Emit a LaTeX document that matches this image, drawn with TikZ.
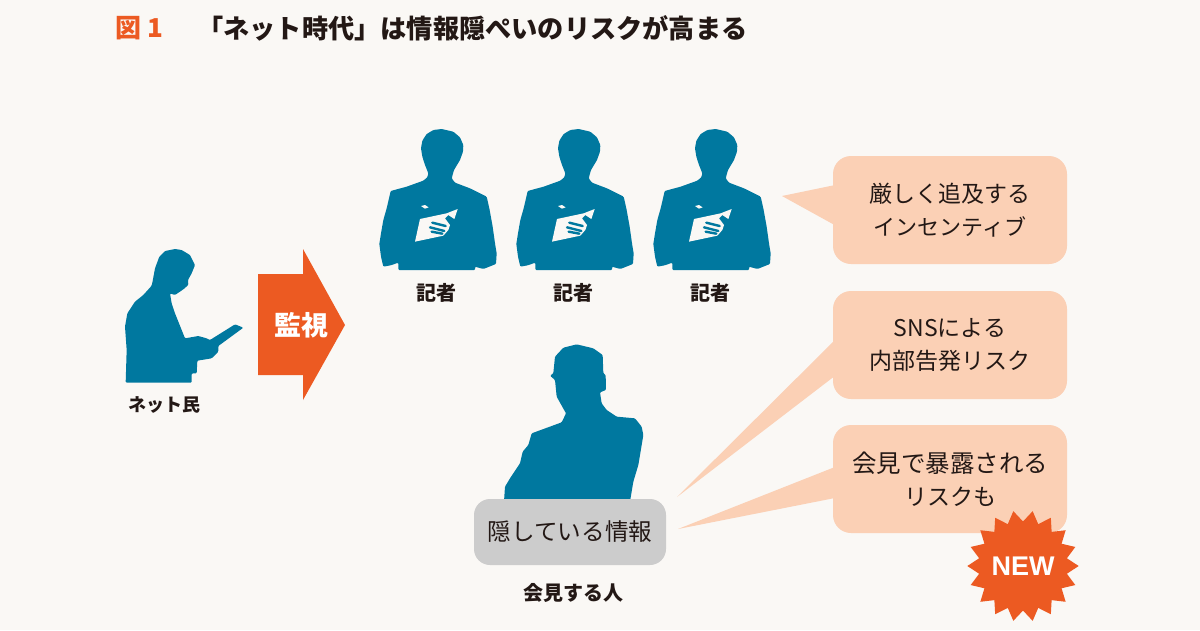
\documentclass[tikz,border=0pt]{standalone}
\usepackage{fontspec}
\setmainfont{Noto Sans CJK JP}
\newfontfamily\latinbold{Liberation Sans}
\usetikzlibrary{shapes.geometric}
\definecolor{bgc}{HTML}{FAF8F5}
\definecolor{teal}{HTML}{00789F}
\definecolor{orng}{HTML}{EC5A22}
\definecolor{peach}{HTML}{FBD0B5}
\definecolor{greyb}{HTML}{CCCCCC}
\definecolor{ink}{HTML}{231815}
\tikzset{
  sil/.style={fill=teal,rounded corners=1pt},
  zoomed/.style={x=0.333333pt,y=-0.333333pt},
  callout/.style={fill=peach,rounded corners=18pt,minimum width=234pt,minimum height=108pt,inner sep=0pt,align=center,text=ink,font=\fontsize{23}{33}\selectfont},
  tailshape/.style={fill=peach},
  caption/.style={text=ink,font=\bfseries\fontsize{20}{24}\selectfont,inner sep=0pt},
}
\newcommand{\reporter}[1]{%
  \begin{scope}[shift={(#1,-120pt)},zoomed]
    \fill[sil] (215,27)--(190,30)--(170,42)--(157,62)--(153,85)--(157,110)--(165,135)--(175,160)--(172,172)--(160,182)--(110,200)--(62,213)--(57,235)--(50,265)--(40,300)--(33,340)--(28,372)--(33,410)--(40,440)--(62,436)--(85,428)--(85,450)--(315,450)--(315,440)--(340,447)--(378,432)--(380,400)--(375,370)--(368,320)--(358,265)--(350,230)--(300,205)--(255,188)--(245,175)--(252,150)--(270,120)--(279,95)--(280,75)--(270,52)--(250,35)--cycle;
    \fill[bgc] (150,297)--(230,280)--(263,267)--(253,297)--(235,285)--(225,295)--(240,315)--(235,330)--(220,347)--(135,365)--cycle;
    \fill[bgc] (153,258)--(165,255)--(176,262)--(165,266)--cycle;
    \draw[teal,line width=2.4pt,line cap=round] (187,308)--(227,318) (180,322)--(223,333) (185,335)--(217,341);
  \end{scope}}
\begin{document}
\begin{tikzpicture}[x=1pt,y=-1pt]
\useasboundingbox (0,0) rectangle (1200,630);
\fill[bgc] (0,0) rectangle (1200,630);

% title
\node[anchor=west,inner sep=0pt,text=orng,font=\bfseries\fontsize{26}{30}\selectfont] (fig) at (115,28) {図 1};
\node[anchor=west,inner sep=0pt,text=ink,font=\bfseries\fontsize{26.2}{30}\selectfont] (title) at (197,28) {「ネット時代」は情報隠ぺいのリスクが高まる};

% net user
\begin{scope}[shift={(110pt,-240pt)},zoomed]
  \fill[sil] (195,27)--(165,33)--(148,50)--(135,85)--(128,123)--(125,137)--(100,165)--(75,185)--(52,220)--(45,260)--(50,330)--(47,428)--(245,428)--(245,400)--(260,400)--(262,362)--(305,355)--(325,335)--(325,318)--(400,263)--(375,253)--(300,300)--(290,295)--(265,288)--(225,295)--(205,245)--(195,220)--(185,190)--(180,160)--(195,165)--(220,148)--(235,135)--(234,120)--(245,100)--(255,75)--(240,45)--(215,30)--cycle;
\end{scope}
\node[caption,font=\bfseries\fontsize{18}{22}\selectfont] (netizen) at (164,405) {ネット民};

% arrow
\fill[orng] (258,274)--(303,274)--(303,249)--(345,325)--(303,400)--(303,375)--(258,375)--cycle;
\node[text=white,inner sep=0pt,font=\bfseries\fontsize{27}{30}\selectfont] (watch) at (301,325) {監視};

% reporters
\reporter{370pt}
\reporter{507pt}
\reporter{644pt}
\node[caption] (r1) at (436,293) {記者};
\node[caption] (r2) at (573,293) {記者};
\node[caption] (r3) at (710,293) {記者};

% speaker
\begin{scope}[shift={(460pt,-335pt)},zoomed]
  \fill[sil] (350,28)--(310,38)--(285,65)--(280,115)--(270,122)--(285,135)--(290,185)--(318,235)--(305,262)--(215,295)--(205,330)--(188,350)--(180,385)--(150,430)--(135,455)--(132,500)--(510,500)--(520,440)--(535,390)--(550,300)--(545,275)--(525,250)--(470,245)--(440,225)--(425,205)--(420,172)--(438,165)--(437,120)--(430,115)--(428,60)--(400,40)--cycle;
\end{scope}
\node[fill=greyb,rounded corners=16pt,minimum width=192pt,minimum height=66pt,inner sep=0pt,text=ink,font=\fontsize{23.6}{28}\selectfont] (secret) at (570,532) {\raisebox{-1pt}{隠している情報}};
\node[caption] (speaker) at (573,593) {会見する人};

% callouts
\coordinate (t1) at (782,196);
\coordinate (t2) at (677,497);
\coordinate (t3) at (678,529);
\fill[tailshape] (t1)--(840,184)--(840,228)--cycle;
\fill[tailshape] (t2)--(840,335)--(840,372)--cycle;
\fill[tailshape] (t3)--(840,465)--(840,497)--cycle;
\node[callout] (c1) at (950,210) {\raisebox{-1pt}{厳しく追及する}\\{\fontsize{22}{33}\selectfont\raisebox{-1pt}{インセンティブ}}};
\node[callout] (c2) at (950,345) {\raisebox{-1pt}{SNSによる}\\\raisebox{-1pt}{内部告発リスク}};
\node[callout] (c3) at (950,479) {{\fontsize{24.5}{33}\selectfont\raisebox{-1pt}{会見で暴露される}}\\\raisebox{-1pt}{リスクも}};

% NEW burst
\node[star,star points=18,star point ratio=1.25,shape border rotate=10,fill=orng,minimum size=108pt,inner sep=0pt,text=white,font=\latinbold\bfseries\fontsize{27}{30}\selectfont] (new) at (1023,566) {NEW};
\end{tikzpicture}
\end{document}
